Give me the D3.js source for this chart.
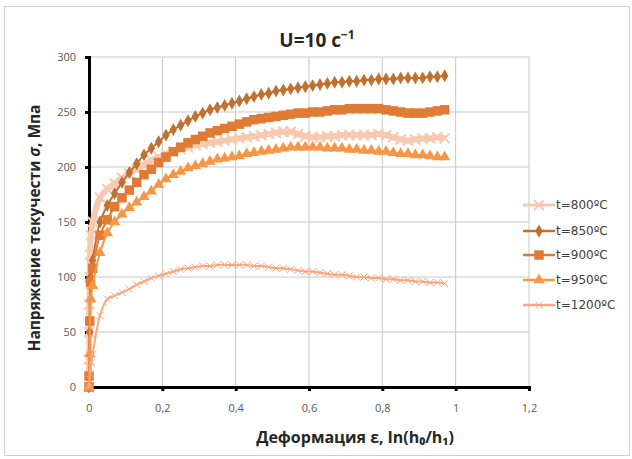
<!DOCTYPE html>
<html>
<head>
<meta charset="utf-8">
<script src="https://cdn.jsdelivr.net/npm/d3@7"></script>
<style>
  body { margin: 0; background: #fff; }
  svg text { font-family: "Open Sans", "DejaVu Sans", sans-serif; }
</style>
</head>
<body>
<div class="chart"></div>
<script>
// strain points (shared by every series after the initial jump)
const strain = [0.01,0.03,0.05,0.07,0.09,0.11,0.13,0.15,0.17,0.19,0.21,0.23,0.25,0.27,0.29,0.31,0.33,0.35,0.37,0.39,
  0.41,0.43,0.45,0.47,0.49,0.51,0.53,0.55,0.57,0.59,0.61,0.63,0.65,0.67,0.69,0.71,0.73,0.75,0.77,0.79,
  0.81,0.83,0.85,0.87,0.89,0.91,0.93,0.95,0.97]

const s800 = [150,172,180,185,190,194,198,202,206,209,212,214,216,218,220,221,222,223,224,225,
  226,227,228,229,230,231,232,232,230,228,227,227,228,228,229,229,229,229,229,230,
  229,227,225,224,225,226,226,227,226]
const s850 = [115,150,165,176,186,195,203,211,217,223,229,234,238,242,246,249,252,254,256,258,
  260,262,264,266,267,269,270,271,272,273,274,275,276,277,277,278,278,279,279,280,
  280,280,281,281,281,281,282,282,283]
const s900 = [108,138,152,164,172,179,186,193,198,204,209,214,218,222,225,228,231,233,235,237,
  239,241,243,244,245,246,247,248,249,249,250,250,251,252,252,253,253,253,253,253,
  252,251,250,249,249,249,250,251,252]
const s950 = [92,122,140,150,157,163,168,173,178,184,189,193,196,199,201,203,205,207,208,209,
  210,212,213,214,215,216,217,218,218,218,218,218,217,217,217,216,216,215,215,214,
  214,213,212,212,211,211,210,209,209]
const s1200 = [30,65,80,83,86,89,93,96,99,101,103,105,107,108,109,110,110,111,111,111,
  111,111,110,110,109,108,108,107,106,105,105,104,103,102,102,101,100,100,99,99,
  98,98,97,97,96,96,95,95,94]

// first points at the origin (strain, stress)
const h800 = [[0,0],[0,25],[0.001,50],[0.001,75],[0.002,100],[0.003,120],[0.005,138]]
const h850 = [[0,0],[0.002,50],[0.004,100]]
const h900 = [[0,0],[0,10],[0.002,60],[0.004,95]]
const h950 = [[0,0],[0.002,30],[0.005,80]]
const h1200 = [[0,0],[0.003,12],[0.006,22]]

const names = ['t=800ºC', 't=850ºC', 't=900ºC', 't=950ºC', 't=1200ºC']
const xTicks = [0, 0.2, 0.4, 0.6, 0.8, 1, 1.2]
const yTicks = [0, 50, 100, 150, 200, 250, 300]

const W = 632, H = 459
const svg = d3.select('.chart').append('svg').attr('width', W).attr('height', H)

svg.append('rect').attr('x', 4.5).attr('y', 6.5).attr('width', 625).attr('height', 449)
  .attr('fill', '#fff').attr('stroke', '#d0d0d0')

const x = d3.scaleLinear().domain([0, 1.2]).range([89, 529])
const y = d3.scaleLinear().domain([0, 300]).range([387, 57])

// grid
svg.append('g').selectAll('line').data(yTicks.slice(1)).join('line')
  .attr('x1', x(0)).attr('x2', x(1.2)).attr('y1', d => y(d)).attr('y2', d => y(d))
  .attr('stroke', '#c8c8c8')
svg.append('g').selectAll('line').data(xTicks.slice(1)).join('line')
  .attr('x1', d => x(d)).attr('x2', d => x(d)).attr('y1', y(0)).attr('y2', y(300))
  .attr('stroke', '#c8c8c8')

const fmt = d => d3.format('')(d).replace('.', ',')

// axes
const gx = svg.append('g').attr('transform', `translate(0,${y(0)})`)
  .call(d3.axisBottom(x).tickValues(xTicks).tickFormat(fmt).tickSize(4).tickPadding(13))
gx.select('.domain').attr('stroke', '#000').attr('stroke-width', 3)
gx.selectAll('.tick line').attr('stroke', '#000').attr('stroke-width', 3)
gx.selectAll('text').attr('fill', '#595959').attr('font-size', 11)

const gy = svg.append('g').attr('transform', `translate(${x(0)},0)`)
  .call(d3.axisLeft(y).tickValues(yTicks).tickSize(4).tickPadding(9))
gy.select('.domain').attr('stroke', '#000').attr('stroke-width', 3)
gy.selectAll('.tick line').attr('stroke', '#000').attr('stroke-width', 3)
gy.selectAll('text').attr('fill', '#595959').attr('font-size', 11)

// series
const xMark = s => `M${-s},${-s}L${s},${s}M${-s},${s}L${s},${-s}`
const series = [
  {name: names[0], head: h800, vals: s800, col: '#f8c9b0', lw: 6, mark: 'x', ms: 5, mw: 2},
  {name: names[1], head: h850, vals: s850, col: '#c0702f', lw: 2, mark: d3.symbolDiamond, ms: 48},
  {name: names[2], head: h900, vals: s900, col: '#e07b36', lw: 2, mark: d3.symbolSquare, ms: 90},
  {name: names[3], head: h950, vals: s950, col: '#f79646', lw: 2, mark: d3.symbolTriangle, ms: 55},
  {name: names[4], head: h1200, vals: s1200, col: '#f9a57d', lw: 2, mark: 'x', ms: 3.5, mw: 1}
]

const line = d3.line().x(d => x(d[0])).y(d => y(d[1])).curve(d3.curveCatmullRom.alpha(0.5))

function drawMark(g, s, px, py) {
  if (s.mark === 'x') {
    g.append('path').attr('d', xMark(s.ms)).attr('transform', `translate(${px},${py})`)
      .attr('stroke', s.col).attr('stroke-width', s.mw).attr('fill', 'none')
  } else {
    g.append('path').attr('d', d3.symbol(s.mark, s.ms)()).attr('transform', `translate(${px},${py})`)
      .attr('fill', s.col)
  }
}

series.forEach(s => {
  const pts = s.head.concat(strain.map((e, i) => [e, s.vals[i]]))
  const g = svg.append('g')
  g.append('path').datum(pts).attr('d', line)
    .attr('fill', 'none').attr('stroke', s.col).attr('stroke-width', s.lw)
  pts.forEach(p => drawMark(g, s, x(p[0]), y(p[1])))
})

// legend
const legY = [205, 231, 255, 280, 305]
series.forEach((s, i) => {
  const g = svg.append('g')
  g.append('line').attr('x1', 523).attr('x2', 555).attr('y1', legY[i]).attr('y2', legY[i])
    .attr('stroke', s.col).attr('stroke-width', s.lw === 6 ? 3 : 2.5)
  drawMark(g, s, 539, legY[i])
  g.append('text').attr('x', 556).attr('y', legY[i] + 4).text(s.name)
    .attr('font-size', 12).attr('fill', '#404040').style('font-family', '"DejaVu Sans", sans-serif')
})

// titles
svg.append('text').attr('x', 317).attr('y', 47).attr('text-anchor', 'middle')
  .attr('font-size', 19).attr('font-weight', 'bold').attr('fill', '#262626')
  .html('U=10 c<tspan dy="-8" font-size="12">−1</tspan>')

svg.append('text').attr('transform', 'translate(40,228) rotate(-90)').attr('text-anchor', 'middle')
  .attr('font-size', 15.5).attr('font-weight', 'bold').attr('fill', '#262626')
  .html('Напряжение текучести <tspan font-style="italic">σ</tspan>, Мпа')

svg.append('text').attr('x', 355).attr('y', 443).attr('text-anchor', 'middle')
  .attr('font-size', 16).attr('font-weight', 'bold').attr('fill', '#262626')
  .text('Деформация ε, ln(h₀/h₁)')
</script>
</body>
</html>
